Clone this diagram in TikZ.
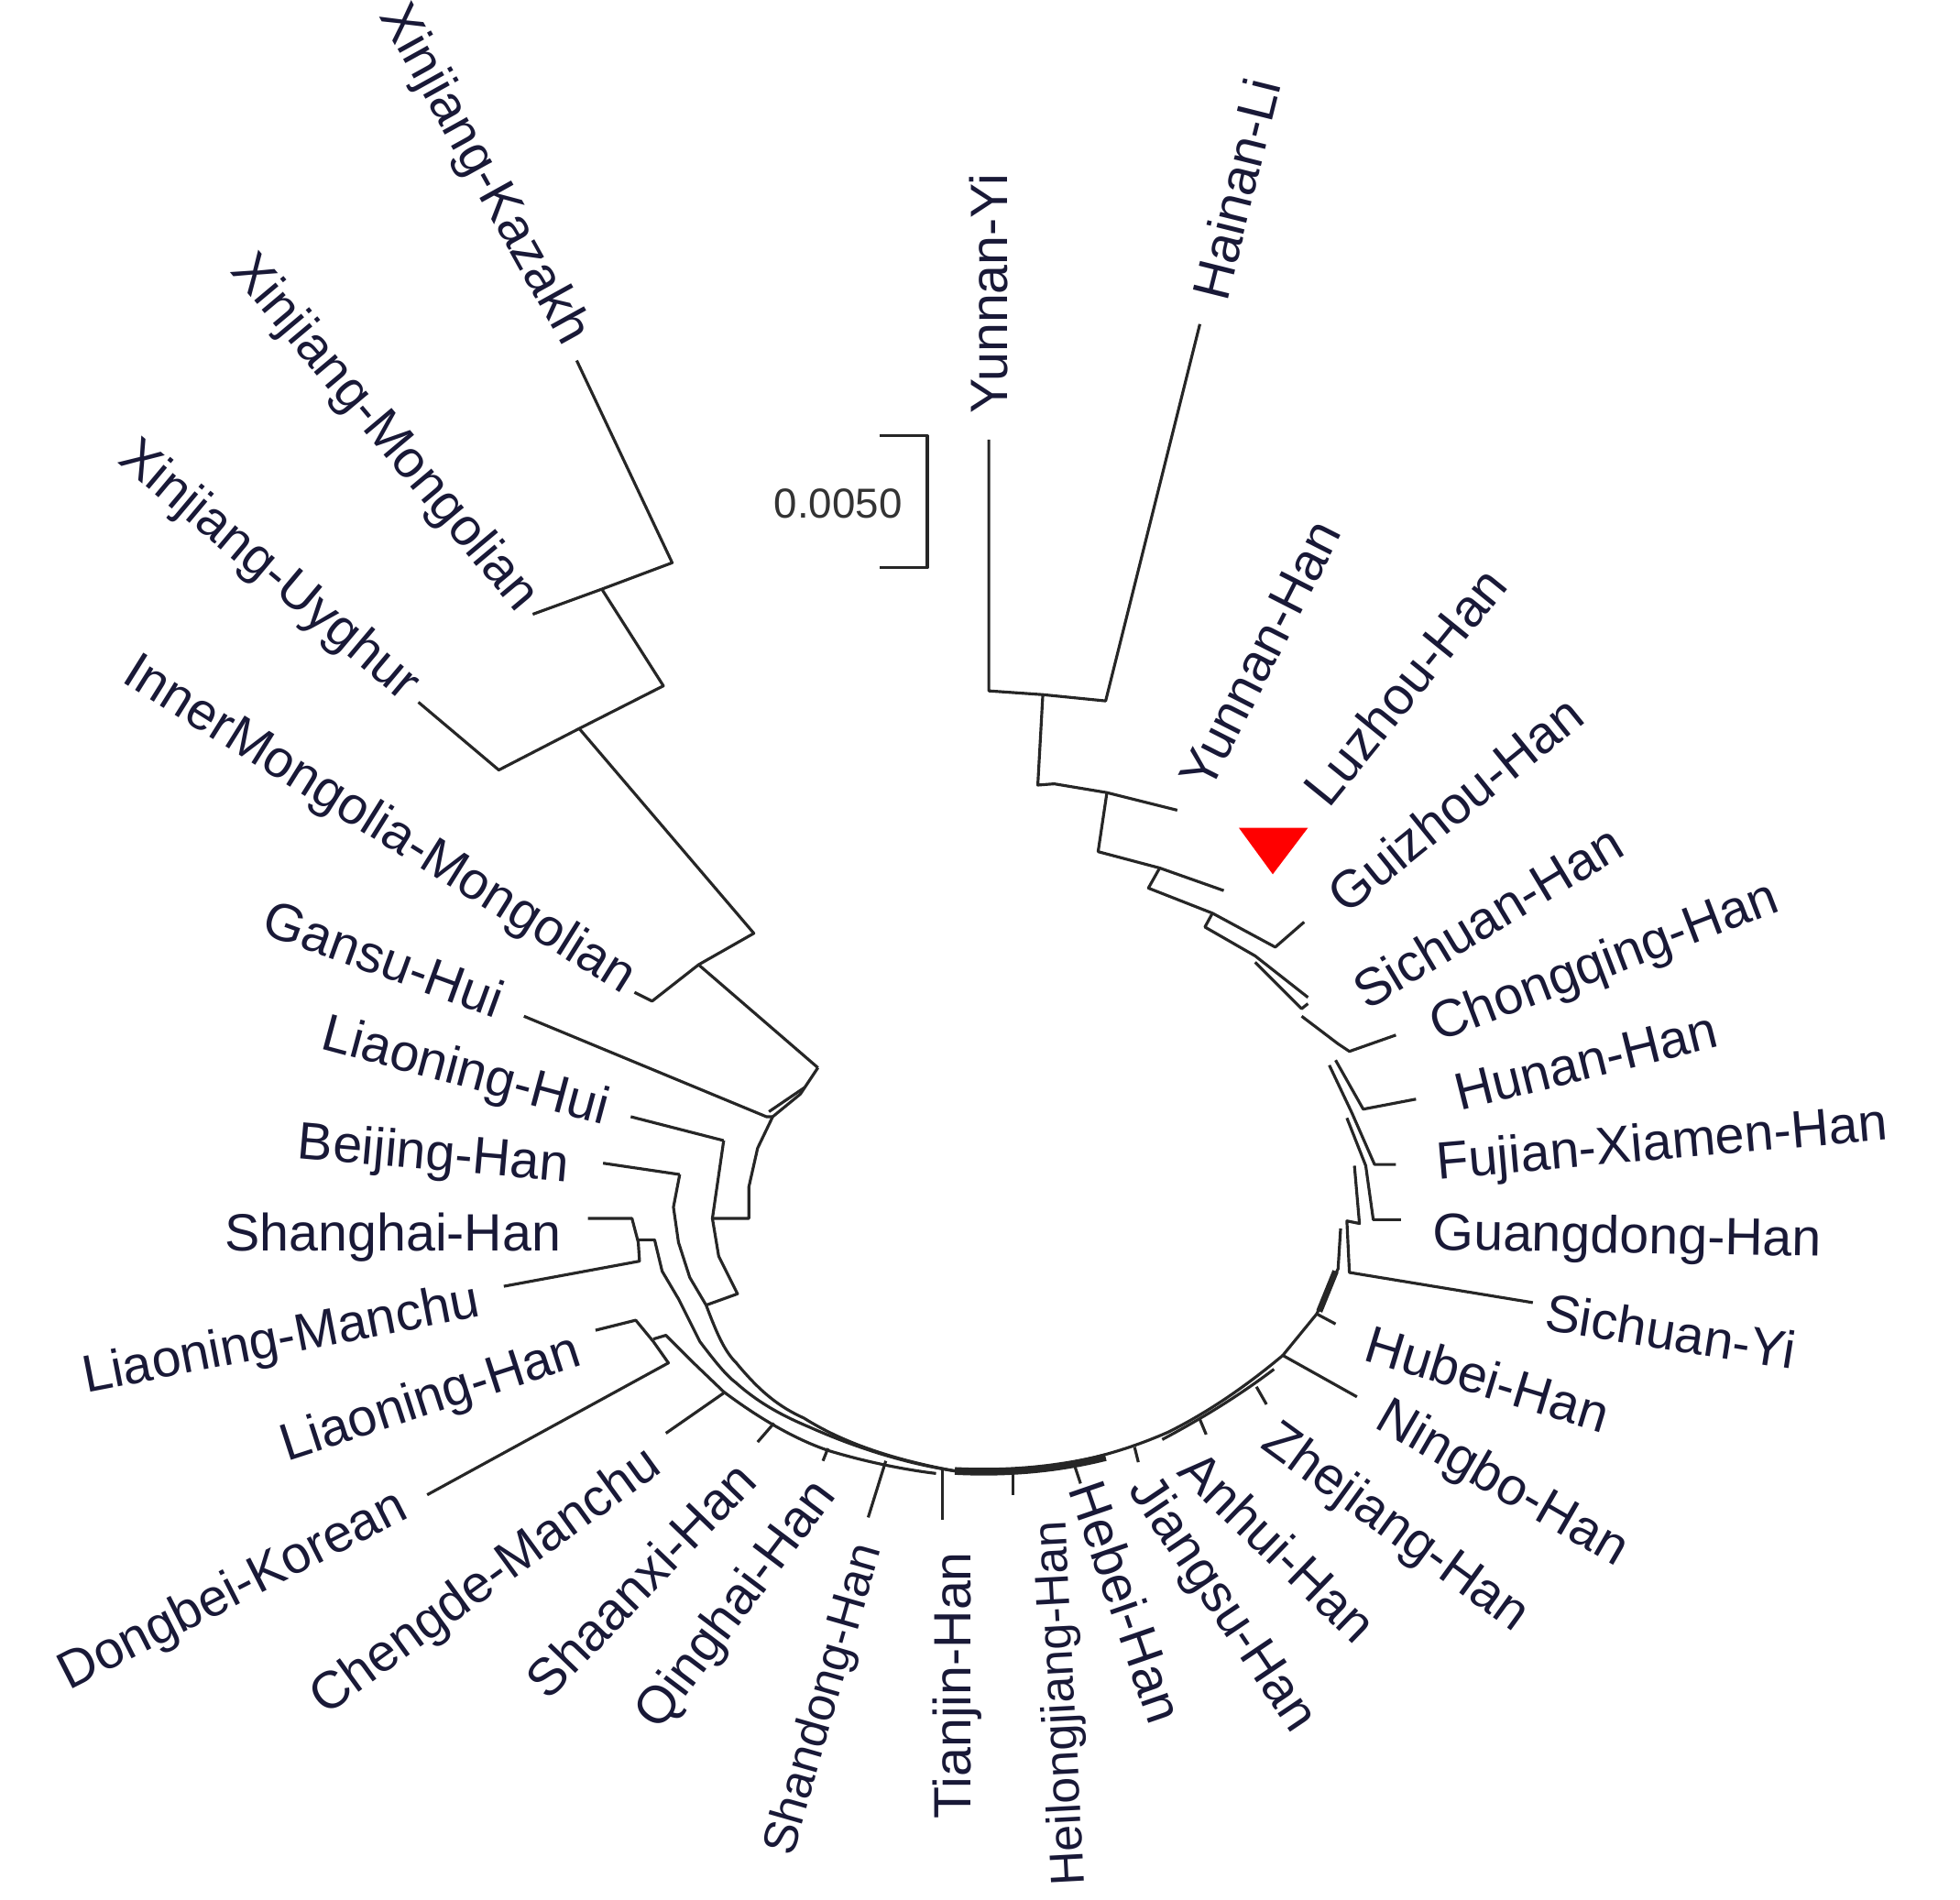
\documentclass[tikz,border=0pt]{standalone}
\usepackage{fontspec}
\setmainfont{Liberation Sans}
\begin{document}
\begin{tikzpicture}[x=0.01371cm,y=-0.01371cm,
  br/.style={line width=0.9pt,black!85,line join=round},
  lab/.style={font=\fontsize{16.3}{19}\selectfont,text=labc,inner sep=0pt},
  labs/.style={font=\fontsize{14.8}{17}\selectfont},
  labR/.style={lab,anchor=west},
  labL/.style={lab,anchor=east}]
\definecolor{labc}{RGB}{25,25,55}
\useasboundingbox (0,0) rectangle (1560,1512);
% ---- top-right clade
\draw[br] (787,350) -- (787,550) -- (830,553) -- (880,558) -- (955,258);
\draw[br] (830,553) -- (826,625) -- (839,624) -- (881,631) -- (937,645);
\draw[br] (881,631) -- (874,678) -- (923,691) -- (974,709);
\draw[br] (923,691) -- (914,707) -- (965,727) -- (1015,754) -- (1038,734);
\draw[br] (965,727) -- (959,738) -- (999,761) -- (1041,794);
\draw[br] (999,766) -- (1036,803) -- (1041,799);
\draw[br] (1036,809) -- (1065,831) -- (1074,837) -- (1111,824);
\draw[br] (1063,844) -- (1085,883) -- (1127,875);
\draw[br] (1058,848) -- (1076,886) -- (1094,927) -- (1111,927);
\draw[br] (1072,890) -- (1087,928) -- (1093,971) -- (1115,971);
\draw[br] (1078,928) -- (1082,974) -- (1072,972) -- (1074,1013) -- (1220,1037);
\draw[br] (1067,978) -- (1065,1010) -- (1048,1046) -- (1063,1054);
\draw[line width=2pt,black!85] (1063,1012) -- (1050,1044);
\draw[br] (1048,1046) -- (1021,1079) -- (1080,1112);
\draw[br] (1021,1079) .. controls (990,1105) and (960,1125) .. (930,1140)
  .. controls (880,1162) and (830,1171) .. (780,1172);
\draw[br] (1014,1090) .. controls (985,1112) and (955,1130) .. (925,1146);
\draw[br] (1000,1104) -- (1008,1118);
\draw[br] (955,1130) -- (960,1142);
\draw[br] (903,1152) -- (906,1164);
% bottom
\draw[line width=2.4pt,black!85] (760,1171) .. controls (800,1173) and (840,1170) .. (880,1160);
\draw[br] (758,1171) -- (806,1171);
\draw[br] (750,1170) -- (750,1210);
\draw[br] (806,1171) -- (806,1190);
\draw[br] (854,1163) -- (860,1181);
\draw[br] (705,1163) -- (691,1208);
\draw[br] (659,1153) -- (655,1163);
\draw[br] (616,1133) -- (603,1148);
% ---- left ring
\draw[br] (541,935) -- (536,961) -- (540,989) -- (549,1017) -- (562,1039)
  .. controls (570,1060) and (576,1075) .. (586,1085)
  .. controls (605,1108) and (620,1120) .. (640,1129)
  .. controls (670,1148) and (710,1162) .. (760,1171);
\draw[br] (576,908) -- (567,970) -- (572,1000) -- (587,1030) -- (562,1039);
\draw[br] (567,970) -- (596,970) -- (596,945) -- (603,914) -- (615,889) -- (637,871) -- (651,850);
\draw[br] (612,885) -- (640,866);
\draw[br] (417,809) -- (610,889) -- (615,889);
\draw[br] (502,889) -- (576,908);
\draw[br] (480,926) -- (541,935);
\draw[br] (468,970) -- (503,970) -- (508,989) -- (509,1004) -- (401,1024);
\draw[br] (508,987) -- (521,987) -- (527,1012) -- (540,1034) -- (557,1068)
  .. controls (570,1085) and (578,1095) .. (586,1101)
  .. controls (605,1118) and (625,1128) .. (644,1136)
  .. controls (680,1152) and (720,1165) .. (760,1171);
\draw[br] (474,1059) -- (506,1051) -- (520,1068) -- (532,1085) -- (340,1190);
\draw[br] (520,1066) -- (530,1063) -- (552,1085) -- (576,1108)
  .. controls (600,1126) and (630,1145) .. (660,1155)
  .. controls (690,1164) and (720,1170) .. (745,1173);
\draw[br] (576,1109) -- (530,1141);
% ---- upper-left clade
\draw[br] (459,287) -- (535,448) -- (479,469) -- (424,489);
\draw[br] (479,469) -- (528,546) -- (461,580) -- (397,613) -- (333,559);
\draw[br] (461,580) -- (600,743) -- (556,768) -- (519,797) -- (505,790);
\draw[br] (556,768) -- (651,850);
% ---- scale bar
\draw[br] (700,347) -- (738,347) -- (738,452) -- (700,452);
\node[font=\fontsize{13}{15}\selectfont,text=black!80,inner sep=0pt] (sc) at (667,401) {0.0050};
% red marker
\fill[red] (986,659) -- (1041,659) -- (1013,696) -- cycle;
% ---- labels right
\node[labR,rotate=90] (l1) at (787,330) {Yunnan-Yi};
\node[labR,rotate=76] (l2) at (962,238) {Hainan-Li};
\node[labR,rotate=63] (l3) at (950,625) {Yunnan-Han};
\node[labR,rotate=51] (l4) at (1046,635) {Luzhou-Han};
\node[labR,rotate=39] (l5) at (1062,718) {Guizhou-Han};
\node[labR,rotate=31] (l6) at (1080,792) {Sichuan-Han};
\node[labR,rotate=21] (l7) at (1140,820) {Chongqing-Han};
\node[labR,rotate=14] (l8) at (1158,871) {Hunan-Han};
\node[labR,rotate=5] (l9) at (1143,928) {Fujian-Xiamen-Han};
\node[labR,rotate=-1] (l10) at (1140,984) {Guangdong-Han};
\node[labR,rotate=-9] (l11) at (1230,1044) {Sichuan-Yi};
\node[labR,rotate=-17] (l12) at (1088,1068) {Hubei-Han};
\node[labR,rotate=-30] (l13) at (1098,1126) {Ningbo-Han};
\node[labR,rotate=-36] (l14) at (1008,1143) {Zhejiang-Han};
\node[labR,rotate=-44] (l15) at (946,1162) {Anhui-Han};
\node[labR,rotate=-56] (l16) at (906,1180) {Jiangsu-Han};
\node[labR,rotate=-71] (l17) at (864,1180) {Hebei-Han};
% ---- labels left
\node[labL,labs,rotate=93] (l18) at (838,1210) {Heilongjiang-Han};
\node[labL,rotate=90] (l19) at (762,1235) {Tianjin-Han};
\node[labL,labs,rotate=74] (l20) at (692,1230) {Shandong-Han};
\node[labL,rotate=53] (l21) at (658,1184) {Qinghai-Han};
\node[labL,rotate=46] (l22) at (594,1170) {Shaanxi-Han};
\node[labL,rotate=36] (l23) at (522,1162) {Chengde-Manchu};
\node[labL,rotate=27] (l24) at (322,1198) {Dongbei-Korean};
\node[labL,rotate=18] (l25) at (462,1076) {Liaoning-Han};
\node[labL,rotate=11] (l26) at (382,1037) {Liaoning-Manchu};
\node[labL,rotate=0] (l27) at (447,985) {Shanghai-Han};
\node[labL,rotate=-5] (l28) at (453,930) {Beijing-Han};
\node[labL,rotate=-15] (l29) at (484,885) {Liaoning-Hui};
\node[labL,rotate=-20] (l30) at (400,797) {Gansu-Hui};
\node[labL,rotate=-32] (l31) at (502,783) {InnerMongolia-Mongolian};
\node[labL,rotate=-40] (l32) at (328,551) {Xinjiang-Uyghur};
\node[labL,rotate=-50] (l33) at (420,482) {Xinjiang-Mongolian};
\node[labL,rotate=-61] (l34) at (458,272) {Xinjiang-Kazakh};
\end{tikzpicture}
\end{document}
